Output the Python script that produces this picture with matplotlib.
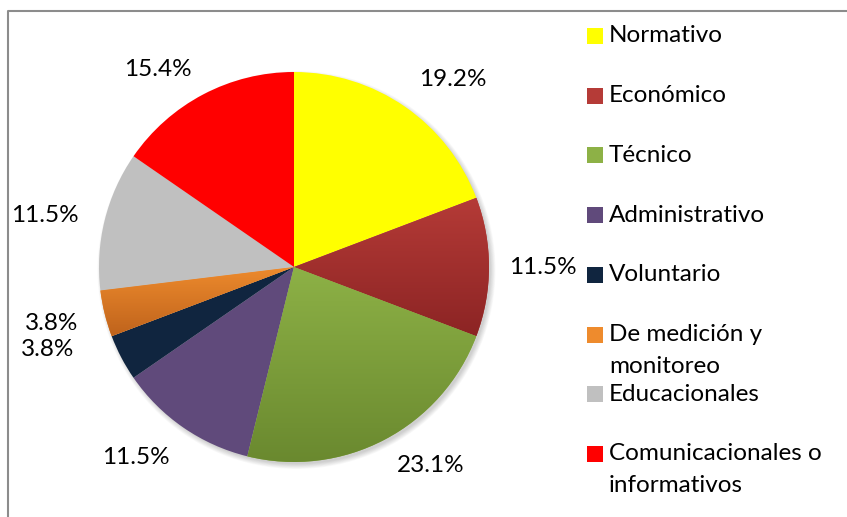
## pie chart of instrument types (Excel style)

import numpy as np
import matplotlib.pyplot as plt
from matplotlib.patches import Rectangle, Circle
from matplotlib.colors import to_rgb

# Data
categories = ['Normativo', 'Económico', 'Técnico', 'Administrativo', 'Voluntario',
              'De medición y\nmonitoreo', 'Educacionales', 'Comunicacionales o\ninformativos']
counts = [5, 3, 6, 3, 1, 1, 3, 4]          # out of 26
pct_labels = ['19.2%', '11.5%', '23.1%', '11.5%', '3.8%', '3.8%', '11.5%', '15.4%']

# Colours: (top, bottom) of the vertical gradient in each slice
colors_top = ['#FFFF00', '#B53B37', '#8DB146', '#604A7B', '#10253F', '#EE8B2D', '#C0C0C0', '#FF0000']
colors_bot = ['#FFFF00', '#8C2424', '#6A892F', '#604A7B', '#10253F', '#BF631C', '#C0C0C0', '#FF0000']

# Layout in pixels (image coordinates, y down)
W, H = 847, 517
cx, cy, R = 294, 267, 195
label_xy = [(453, 80), (543, 268), (431, 466), (136, 457),
            (48, 350), (52, 323), (45, 215), (158, 69)]
leg_y0, leg_dy, leg_line = 36, 59.7, 32

FONT = ['Lato', 'DejaVu Sans']
FS = 17.5

fig = plt.figure(figsize=(W / 100, H / 100), dpi=100)
ax = fig.add_axes([0, 0, 1, 1])

def fy(y):
    return H - y

# frame (only left and top edges are visible)
ax.plot([8, 8, W + 5], [-5, fy(11), fy(11)], color='#8C8C8C', lw=1.5, zorder=1)

# soft shadow under the pie
for k in range(8):
    ax.add_patch(Circle((cx + 2.5, fy(cy) - 3), R + 4 - k * 0.7, color='black',
                        alpha=0.025, lw=0, zorder=2))

wedges, _ = ax.pie(counts, center=(cx, fy(cy)), radius=R, startangle=90,
                   counterclock=False, colors=colors_top, frame=True,
                   wedgeprops=dict(linewidth=0))
ax.set_xlim(0, W)
ax.set_ylim(0, H)
ax.set_aspect('auto')
ax.axis('off')

# vertical gradient inside each slice
for w, ct, cb in zip(wedges, colors_top, colors_bot):
    w.set_zorder(3)
    if ct == cb:
        continue
    bb = w.get_path().get_extents(w.get_patch_transform())
    t = np.linspace(0, 1, 200)[:, None]
    c0, c1 = np.array(to_rgb(ct)), np.array(to_rgb(cb))
    img = (c0[None, None, :] * (1 - t[..., None]) + c1[None, None, :] * t[..., None])
    img = np.repeat(img, 2, axis=1)
    im = ax.imshow(img, extent=(bb.x0, bb.x1, bb.y0, bb.y1), origin='upper',
                   aspect='auto', zorder=4, interpolation='bilinear')
    im.set_clip_path(w)

# percentage labels
for (x, y), s in zip(label_xy, pct_labels):
    ax.text(x, fy(y), s, ha='center', va='center', fontsize=FS, family=FONT, zorder=6)

# legend
for i, (lab, c) in enumerate(zip(categories, colors_top)):
    y = leg_y0 + i * leg_dy
    ax.add_patch(Rectangle((587, fy(y) - 8), 16, 16, facecolor=c, lw=0, zorder=6))
    for k, line in enumerate(lab.split('\n')):
        ax.text(609, fy(y + k * leg_line), line, ha='left', va='center',
                fontsize=FS, family=FONT, zorder=6)

fig.savefig('out.png', dpi=100)
